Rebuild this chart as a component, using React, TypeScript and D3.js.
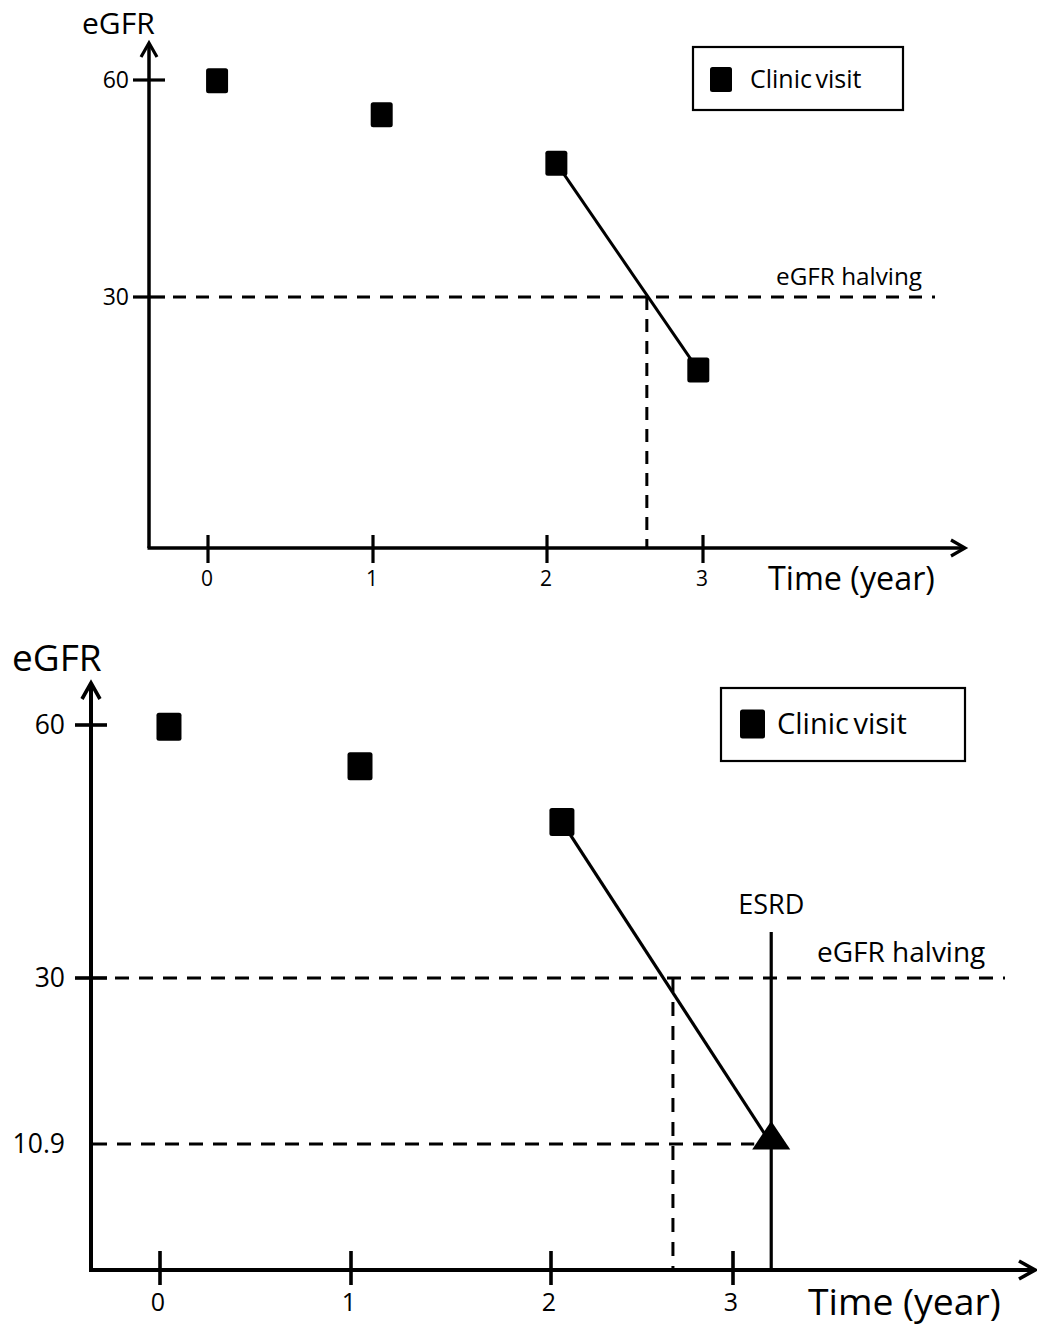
import React from "react";
import * as d3 from "d3";

// ---- data ----
const xTickYears = [0, 1, 2, 3];
const yTickTop = [60, 30];
const yTickBottom = [60, 30, 10.9];
const yTickMarkedBottom = [60, 30];
const visitYearsTop = [0.055, 1.05, 2.06, 2.97];
const visitEgfrTop = [59.9, 55.2, 48.5, 19.9];
const visitYearsBottom = [0.047, 1.045, 2.06];
const visitEgfrBottom = [59.8, 55.1, 48.5];
const halvingEgfr = 30;
const halvingYearTop = 2.64;
const halvingYearBottom = 2.67;
const esrdYear = 3.21;
const esrdEgfr = 10.9;

const FONT = "'Open Sans', Lato, sans-serif";

function Arrow({ x, y, dir, w, l, sw }: any) {
  const d =
    dir === "up"
      ? `M${x - w},${y + l} L${x},${y} L${x + w},${y + l}`
      : `M${x - l},${y - w} L${x},${y} L${x - l},${y + w}`;
  return <path d={d} fill="none" stroke="#000" strokeWidth={sw} strokeLinejoin="miter" />;
}

function Square({ cx, cy, w, h }: any) {
  return <rect x={cx - w / 2} y={cy - h / 2} width={w} height={h} rx={2.5} fill="#000" />;
}

export default function App() {
  const x1 = d3.scaleLinear().domain(xTickYears).range([208, 373, 547, 703]);
  const y1 = d3.scaleLinear().domain([30, 60]).range([297, 80]);
  const x2 = d3.scaleLinear().domain(xTickYears).range([160, 351, 551, 733]);
  const y2 = d3.scaleLinear().domain([10.9, 30, 60]).range([1144, 978, 725]);

  const ax1 = { left: 149, bottom: 548, top: 43, right: 965 };
  const ax2 = { left: 91, bottom: 1270, top: 683, right: 1035 };

  const line = d3.line<[number, number]>();

  const top = visitYearsTop.map((t, i) => [x1(t), y1(visitEgfrTop[i])] as [number, number]);
  const bot = visitYearsBottom.map((t, i) => [x2(t), y2(visitEgfrBottom[i])] as [number, number]);
  const esrdPt: [number, number] = [x2(esrdYear), y2(esrdEgfr)];

  return (
    <svg
      width={1037}
      height={1326}
      style={{ position: "absolute", left: 0, top: 0, background: "#fff" }}
      fontFamily={FONT}
    >
      <rect width={1037} height={1326} fill="#fff" />
      {/* ============ TOP PANEL ============ */}
      <g>
        <line x1={ax1.left} y1={ax1.bottom} x2={ax1.left} y2={ax1.top + 1} stroke="#000" strokeWidth={3.5} />
        <line x1={ax1.left - 1.5} y1={ax1.bottom} x2={ax1.right - 1} y2={ax1.bottom} stroke="#000" strokeWidth={3.5} />
        <Arrow x={ax1.left} y={ax1.top} dir="up" w={8} l={14} sw={3.2} />
        <Arrow x={ax1.right} y={ax1.bottom} dir="right" w={8} l={14} sw={3.2} />
        {yTickTop.map((v) => (
          <g key={v}>
            <line x1={ax1.left - 16} x2={ax1.left + 16} y1={y1(v)} y2={y1(v)} stroke="#000" strokeWidth={3.2} />
            <text x={ax1.left - 20} y={y1(v) - 1} textAnchor="end" dominantBaseline="central" fontSize={23}>
              {v}
            </text>
          </g>
        ))}
        {xTickYears.map((t) => (
          <g key={t}>
            <line x1={x1(t)} x2={x1(t)} y1={ax1.bottom - 13} y2={ax1.bottom + 15} stroke="#000" strokeWidth={3.2} />
            <text x={x1(t) - 1} y={578} textAnchor="middle" dominantBaseline="central" fontSize={21}>
              {t}
            </text>
          </g>
        ))}
        <text x={82} y={34} fontSize={30}>
          eGFR
        </text>
        <text x={768} y={577} dominantBaseline="central" fontSize={32.3}>
          Time (year)
        </text>
        <line
          x1={ax1.left + 16}
          x2={935}
          y1={y1(halvingEgfr)}
          y2={y1(halvingEgfr)}
          stroke="#000"
          strokeWidth={3}
          strokeDasharray="13 10"
          strokeDashoffset={-8}
        />
        <line
          x1={x1(halvingYearTop)}
          x2={x1(halvingYearTop)}
          y1={y1(halvingEgfr)}
          y2={ax1.bottom}
          stroke="#000"
          strokeWidth={3}
          strokeDasharray="13 9"
        />
        <text x={776} y={275} dominantBaseline="central" fontSize={24.3}>
          eGFR halving
        </text>
        <path d={line([top[2], top[3]]) || ""} stroke="#000" strokeWidth={3} fill="none" />
        {top.map((p, i) => (
          <Square key={i} cx={p[0]} cy={p[1]} w={22} h={25} />
        ))}
        <rect x={693} y={47} width={210} height={63} fill="#fff" stroke="#000" strokeWidth={2.2} />
        <Square cx={721} cy={79.5} w={22} h={25} />
        <text x={750} y={78} dominantBaseline="central" fontSize={25} wordSpacing={-3}>
          Clinic visit
        </text>
      </g>

      {/* ============ BOTTOM PANEL ============ */}
      <g>
        <line x1={ax2.left} y1={ax2.bottom} x2={ax2.left} y2={ax2.top + 1} stroke="#000" strokeWidth={4} />
        <line x1={ax2.left - 2} y1={ax2.bottom} x2={ax2.right - 1} y2={ax2.bottom} stroke="#000" strokeWidth={4} />
        <Arrow x={ax2.left} y={ax2.top} dir="up" w={9} l={16} sw={3.6} />
        <Arrow x={ax2.right} y={ax2.bottom} dir="right" w={9} l={16} sw={3.6} />
        {yTickMarkedBottom.map((v) => (
          <line key={v} x1={ax2.left - 16} x2={ax2.left + 16} y1={y2(v)} y2={y2(v)} stroke="#000" strokeWidth={3.6} />
        ))}
        {yTickBottom.map((v) => (
          <text key={v} x={65} y={y2(v) - 1} textAnchor="end" dominantBaseline="central" fontSize={26.5}>
            {v}
          </text>
        ))}
        {xTickYears.map((t) => (
          <g key={t}>
            <line x1={x2(t)} x2={x2(t)} y1={ax2.bottom - 19} y2={ax2.bottom + 15} stroke="#000" strokeWidth={3.6} />
            <text x={x2(t) - 2} y={1301} textAnchor="middle" dominantBaseline="central" fontSize={25}>
              {t}
            </text>
          </g>
        ))}
        <text x={12} y={656} dominantBaseline="central" fontSize={37}>
          eGFR
        </text>
        <text x={808} y={1300} dominantBaseline="central" fontSize={37.3}>
          Time (year)
        </text>
        <line
          x1={ax2.left + 16}
          x2={1005}
          y1={y2(halvingEgfr)}
          y2={y2(halvingEgfr)}
          stroke="#000"
          strokeWidth={3}
          strokeDasharray="14 10"
          strokeDashoffset={-8}
        />
        <line
          x1={x2(halvingYearBottom)}
          x2={x2(halvingYearBottom)}
          y1={y2(halvingEgfr)}
          y2={ax2.bottom}
          stroke="#000"
          strokeWidth={3}
          strokeDasharray="14 10"
        />
        <line
          x1={ax2.left + 2}
          x2={esrdPt[0] - 17}
          y1={y2(esrdEgfr)}
          y2={y2(esrdEgfr)}
          stroke="#000"
          strokeWidth={3}
          strokeDasharray="14 10"
        />
        <text x={817} y={951} dominantBaseline="central" fontSize={28}>
          eGFR halving
        </text>
        <line x1={esrdPt[0]} x2={esrdPt[0]} y1={932} y2={ax2.bottom} stroke="#000" strokeWidth={3.2} />
        <text x={esrdPt[0]} y={903} textAnchor="middle" dominantBaseline="central" fontSize={27}>
          ESRD
        </text>
        <path d={line([bot[2], esrdPt]) || ""} stroke="#000" strokeWidth={3.2} fill="none" />
        {bot.map((p, i) => (
          <Square key={i} cx={p[0]} cy={p[1]} w={25} h={28} />
        ))}
        <path
          d={d3.symbol(d3.symbolTriangle, 520)() || ""}
          transform={`translate(${esrdPt[0]},${esrdPt[1] - 4}) scale(1.1,0.95)`}
          fill="#000"
        />
        <rect x={721} y={688} width={244} height={73} fill="#fff" stroke="#000" strokeWidth={2.2} />
        <Square cx={752.5} cy={724} w={25} h={29} />
        <text x={777} y={722} dominantBaseline="central" fontSize={29} wordSpacing={-3}>
          Clinic visit
        </text>
      </g>
    </svg>
  );
}
